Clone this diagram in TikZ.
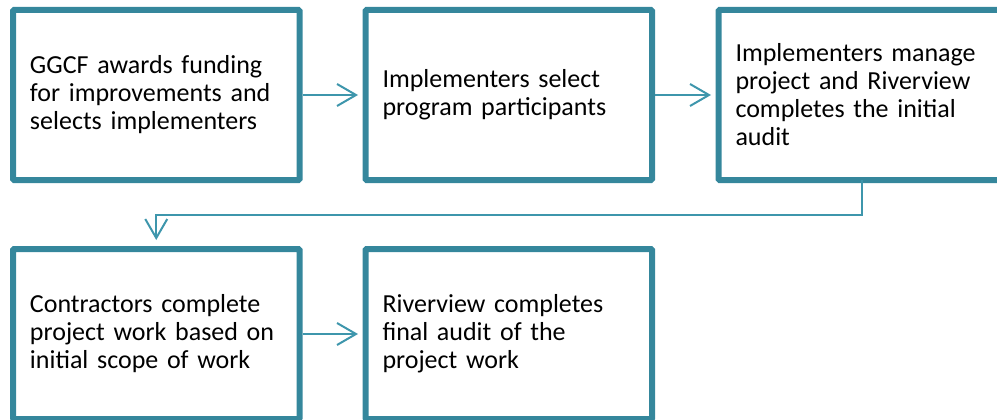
\documentclass[tikz,border=0pt]{standalone}
\usepackage{fontspec}
\setmainfont{Carlito}
\usetikzlibrary{arrows.meta}
\definecolor{boxteal}{HTML}{35879C}
\definecolor{linkteal}{HTML}{3E96AC}
\begin{document}
\begin{tikzpicture}[x=1pt,y=-1pt,
  stepbox/.style={draw=boxteal, line width=6pt, outer sep=0pt, inner sep=0pt,
    minimum width=286.5pt, minimum height=170pt, anchor=north west,
    rounded corners=1pt, text width=252.5pt, align=left,
    font=\fontsize{26}{28}\selectfont},
  link/.style={draw=linkteal, line width=2pt,
    -{Straight Barb[length=19pt,width=22pt,line width=2pt]}}]
  \useasboundingbox (0,0) rectangle (997,420);

  % first row
  \node[stepbox] (b1) at (13,10)
    {GGCF awards funding\\for improvements and\\selects implementers};
  \node[stepbox] (b2) at (365.5,10)
    {Implementers select\\program participants};
  \node[stepbox] (b3) at (718.5,10)
    {Implementers manage\\project and Riverview\\completes the initial\\audit};

  % second row
  \node[stepbox] (b4) at (13,249)
    {Contractors complete\\project work based on\\initial scope of work};
  \node[stepbox] (b5) at (365.5,249)
    {Riverview completes\\final audit of the\\project work};

  % connectors
  \draw[link, shorten <=3pt, shorten >=7.5pt] (b1.east) -- (b2.west);
  \draw[link, shorten <=3pt, shorten >=7.5pt] (b2.east) -- (b3.west);
  \draw[link, shorten >=9pt] (b3.south) -- ++(0,35) -| (b4.north);
  \draw[link, shorten <=3pt, shorten >=7.5pt] (b4.east) -- (b5.west);
\end{tikzpicture}
\end{document}
